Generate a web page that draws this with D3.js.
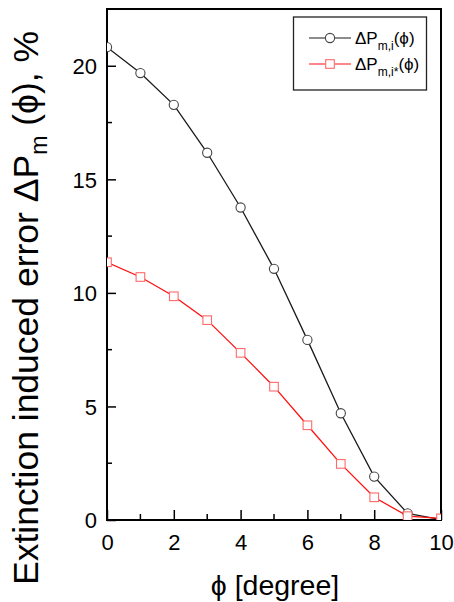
<!DOCTYPE html>
<html>
<head>
<meta charset="utf-8">
<script src="https://cdn.jsdelivr.net/npm/d3@7"></script>
<style>
  body { margin: 0; background: #fff; }
  svg { font-family: "Liberation Sans", Arial, sans-serif; }
</style>
</head>
<body>
<svg id="chart" width="454" height="602"></svg>
<script>
// values
const phi = [0, 1, 2, 3, 4, 5, 6, 7, 8, 9, 10];
const errI = [20.82, 19.68, 18.28, 16.17, 13.76, 11.06, 7.93, 4.70, 1.91, 0.29, 0.02];
const errIStar = [11.35, 10.70, 9.85, 8.80, 7.36, 5.87, 4.17, 2.47, 1.00, 0.17, 0.07];
const xTicks = [0, 2, 4, 6, 8, 10];
const xMinor = [1, 3, 5, 7, 9];
const yTicks = [0, 5, 10, 15, 20];
const yMinor = [2.5, 7.5, 12.5, 17.5];

const plotL = 107, plotR = 441, plotT = 9, plotB = 520;

const svg = d3.select('#chart');

const x = d3.scaleLinear().domain([0, 10]).range([plotL, plotR]);
const y = d3.scaleLinear().domain([0, 22.5]).range([plotB, plotT]);

svg.append('defs').append('clipPath').attr('id', 'plot')
  .append('rect')
  .attr('x', plotL).attr('y', plotT)
  .attr('width', plotR - plotL).attr('height', plotB - plotT);

// axes with inside ticks
const xAxis = svg.append('g')
  .attr('transform', `translate(0,${plotB})`)
  .call(d3.axisBottom(x).tickValues(xTicks).tickSizeInner(-10).tickSizeOuter(0).tickPadding(14)
    .tickFormat(d3.format('d')));
xAxis.append('g').selectAll('line').data(xMinor).enter().append('line')
  .attr('x1', d => x(d)).attr('x2', d => x(d))
  .attr('y1', 0).attr('y2', -6);

const yAxis = svg.append('g')
  .attr('transform', `translate(${plotL},0)`)
  .call(d3.axisLeft(y).tickValues(yTicks).tickSizeInner(-9).tickSizeOuter(0).tickPadding(10)
    .tickFormat(d3.format('d')));
yAxis.append('g').selectAll('line').data(yMinor).enter().append('line')
  .attr('x1', 0).attr('x2', 5)
  .attr('y1', d => y(d)).attr('y2', d => y(d));

svg.selectAll('.domain').remove();
xAxis.attr('font-family', null).attr('font-size', 22);
yAxis.attr('font-family', null).attr('font-size', 22);
svg.selectAll('.tick text').attr('fill', '#000');
svg.selectAll('.tick line, g > g > line').attr('stroke', '#000').attr('stroke-width', 1.5);
xAxis.selectAll('.tick text').attr('dy', '0.71em');
yAxis.selectAll('.tick text').attr('dy', '0.36em');

// frame
svg.append('rect')
  .attr('x', plotL).attr('y', plotT)
  .attr('width', plotR - plotL).attr('height', plotB - plotT)
  .attr('fill', 'none').attr('stroke', '#000').attr('stroke-width', 2);

const series = [
  { values: errI, line: '#1a1a1a', mark: '#444', shape: 'circle' },
  { values: errIStar, line: '#ff1010', mark: '#ff6a6a', shape: 'square' }
];

const lineGen = d3.line().x((d, i) => x(phi[i])).y(d => y(d));
const plot = svg.append('g').attr('clip-path', 'url(#plot)');

series.forEach(s => {
  plot.append('path')
    .attr('d', lineGen(s.values))
    .attr('fill', 'none').attr('stroke', s.line).attr('stroke-width', 1.3);
});

function drawMark(g, s, cx, cy) {
  if (s.shape === 'circle') {
    g.append('circle').attr('cx', cx).attr('cy', cy).attr('r', 4.6)
      .attr('fill', '#fff').attr('stroke', s.mark).attr('stroke-width', 1.1);
  } else {
    g.append('rect').attr('x', cx - 4.3).attr('y', cy - 4.3).attr('width', 8.6).attr('height', 8.6)
      .attr('fill', '#fff').attr('stroke', s.mark).attr('stroke-width', 1.1);
  }
}

series.forEach(s => {
  s.values.forEach((v, i) => drawMark(plot, s, x(phi[i]), y(v)));
});

// legend
const lg = svg.append('g');
lg.append('rect').attr('x', 293.5).attr('y', 17).attr('width', 133).attr('height', 73)
  .attr('fill', '#fff').attr('stroke', '#222').attr('stroke-width', 1.3);
const subs = ['m,i', 'm,i*'];
series.forEach((s, k) => {
  const ly = 38 + k * 26;
  lg.append('line').attr('x1', 309).attr('x2', 351).attr('y1', ly).attr('y2', ly)
    .attr('stroke', s.line).attr('stroke-width', 1.2);
  drawMark(lg, s, 330, ly);
  const t = lg.append('text').attr('x', 355).attr('y', ly + 6).attr('font-size', 17);
  t.append('tspan').text('ΔP');
  t.append('tspan').attr('font-size', 12).attr('dy', 6).text(subs[k]);
  t.append('tspan').attr('dy', -6).text('(ϕ)');
});

// axis titles
svg.append('text')
  .attr('x', (plotL + plotR) / 2 + 1).attr('y', 595)
  .attr('text-anchor', 'middle').attr('font-size', 28.5)
  .text('ϕ [degree]');

const yt = svg.append('text')
  .attr('transform', 'translate(38,308) rotate(-90)')
  .attr('text-anchor', 'middle').attr('font-size', 35.5);
yt.append('tspan').text('Extinction induced error ΔP');
yt.append('tspan').attr('font-size', 23).attr('dy', 9).text('m');
yt.append('tspan').attr('dy', -9).text(' (ϕ), %');
</script>
</body>
</html>
